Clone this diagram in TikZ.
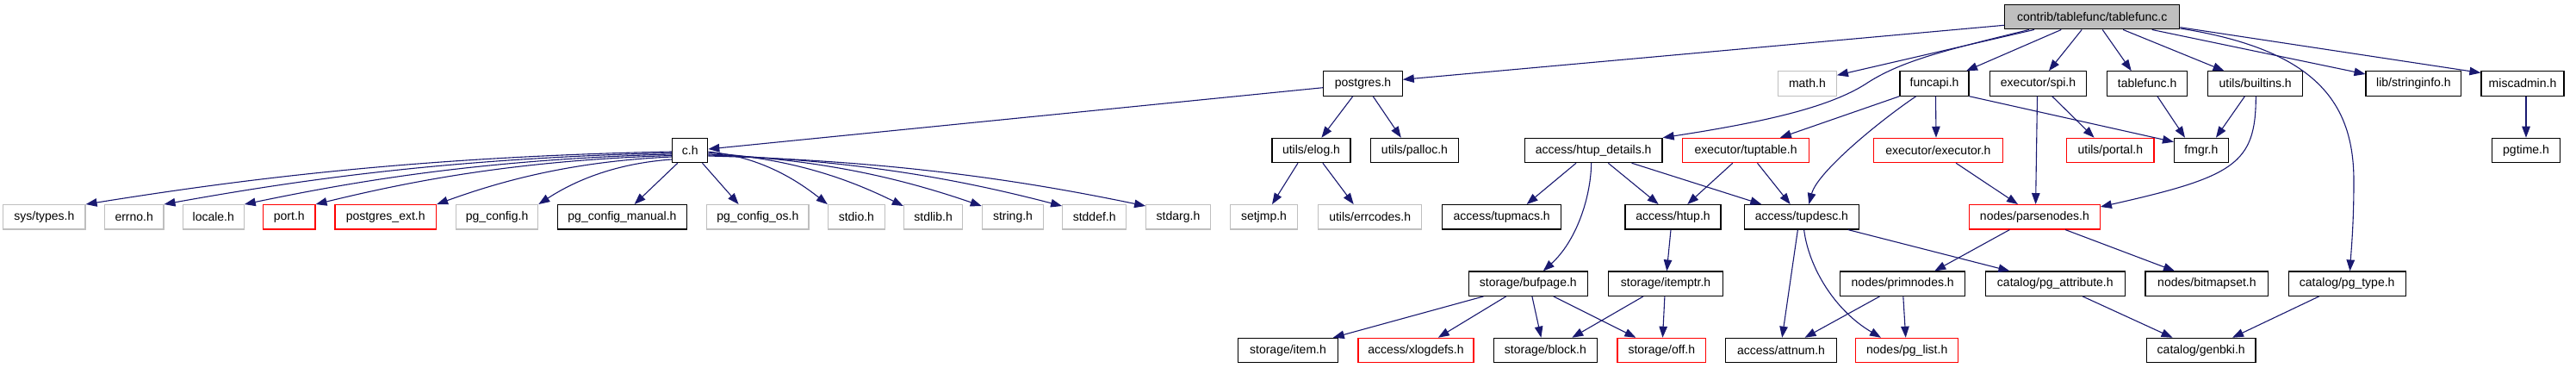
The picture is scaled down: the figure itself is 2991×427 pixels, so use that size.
\documentclass[tikz,border=0pt]{standalone}
\usepackage{fontspec}
\setmainfont{Liberation Sans}
\usetikzlibrary{arrows.meta}
\definecolor{edgec}{HTML}{191970}
\definecolor{sysgray}{HTML}{BFBFBF}
\tikzset{
  box/.style={draw=black, fill=white, line width=1.2pt, minimum height=28.3pt, inner sep=0pt, font=\fontsize{14}{16}\selectfont},
  sysbox/.style={box, draw=sysgray},
  redbox/.style={box, draw=red},
  rootbox/.style={box, fill=sysgray},
  dep/.style={draw=edgec, line width=1.1pt, -{Triangle[length=13pt,width=9.5pt]}}
}
\begin{document}
\begin{tikzpicture}[x=1pt,y=-1pt]
\useasboundingbox (0,0) rectangle (2991,427);
% row 1
\node[rootbox, minimum width=203.1pt] (tf) at (2429.2,19.7) {contrib/tablefunc/tablefunc.c};
% row 2
\node[box, minimum width=91.4pt] (postgres) at (1582.5,97) {postgres.h};
\node[sysbox, minimum width=67.9pt] (math) at (2098.4,97) {math.h};
\node[box, minimum width=80pt] (funcapi) at (2246,97) {funcapi.h};
\node[box, minimum width=112.1pt] (spi) at (2366.5,97) {executor/spi.h};
\node[box, minimum width=93.4pt] (tfh) at (2493.1,97) {tablefunc.h};
\node[box, minimum width=109.7pt] (builtins) at (2618.7,97) {utils/builtins.h};
\node[box, minimum width=110.7pt] (stringinfo) at (2802.4,97) {lib/stringinfo.h};
\node[box, minimum width=96pt] (miscadmin) at (2929,97) {miscadmin.h};
% row 3
\node[box, minimum width=41.1pt] (ch) at (801.2,174.5) {c.h};
\node[box, minimum width=90.9pt] (elog) at (1522.5,174.5) {utils/elog.h};
\node[box, minimum width=101.4pt] (palloc) at (1642.5,174.5) {utils/palloc.h};
\node[box, minimum width=159.7pt] (htupd) at (1850.2,174.5) {access/htup\_details.h};
\node[redbox, minimum width=147.4pt] (tuptable) at (2027.1,174.5) {executor/tuptable.h};
\node[redbox, minimum width=149.9pt] (executor) at (2250.4,174.5) {executor/executor.h};
\node[redbox, minimum width=101.5pt] (portal) at (2450.3,174.5) {utils/portal.h};
\node[box, minimum width=62.7pt] (fmgr) at (2555.9,174.5) {fmgr.h};
\node[box, minimum width=78.5pt] (pgtime) at (2933,174.5) {pgtime.h};
% row 4
\node[sysbox, minimum width=95.2pt] (systypes) at (51.4,251.8) {sys/types.h};
\node[sysbox, minimum width=68.4pt] (errno) at (155.7,251.8) {errno.h};
\node[sysbox, minimum width=70.8pt] (locale) at (247.8,251.8) {locale.h};
\node[redbox, minimum width=60.3pt] (port) at (335.8,251.8) {port.h};
\node[redbox, minimum width=117.6pt] (pgext) at (447.7,251.8) {postgres\_ext.h};
\node[sysbox, minimum width=95.2pt] (pgconfig) at (577.1,251.8) {pg\_config.h};
\node[box, minimum width=150.6pt] (pgcm) at (722.5,251.8) {pg\_config\_manual.h};
\node[sysbox, minimum width=118.1pt] (pgcos) at (879.9,251.8) {pg\_config\_os.h};
\node[sysbox, minimum width=66pt] (stdio) at (994.4,251.8) {stdio.h};
\node[sysbox, minimum width=68.4pt] (stdlib) at (1083.6,251.8) {stdlib.h};
\node[sysbox, minimum width=71.3pt] (strh) at (1176,251.8) {string.h};
\node[sysbox, minimum width=74.1pt] (stddef) at (1270.7,251.8) {stddef.h};
\node[sysbox, minimum width=74.6pt] (stdarg) at (1368,251.8) {stdarg.h};
\node[sysbox, minimum width=78.4pt] (setjmp) at (1467.5,251.8) {setjmp.h};
\node[sysbox, minimum width=120.1pt] (errcodes) at (1590.7,251.8) {utils/errcodes.h};
\node[box, minimum width=138.2pt] (tupmacs) at (1743.7,251.8) {access/tupmacs.h};
\node[box, minimum width=111pt] (htup) at (1942.5,251.8) {access/htup.h};
\node[box, minimum width=133.4pt] (tupdesc) at (2091.9,251.8) {access/tupdesc.h};
\node[redbox, minimum width=151.8pt] (parsenodes) at (2362.4,251.8) {nodes/parsenodes.h};
% row 5
\node[box, minimum width=138.2pt] (bufpage) at (1774.3,329.2) {storage/bufpage.h};
\node[box, minimum width=133.4pt] (itemptr) at (1934.1,329.2) {storage/itemptr.h};
\node[box, minimum width=145.1pt] (primnodes) at (2209.2,329.2) {nodes/primnodes.h};
\node[box, minimum width=162.4pt] (pgattr) at (2386.3,329.2) {catalog/pg\_attribute.h};
\node[box, minimum width=142.7pt] (bitmapset) at (2562.4,329.2) {nodes/bitmapset.h};
\node[box, minimum width=136pt] (pgtype) at (2725.2,329.2) {catalog/pg\_type.h};
% row 6
\node[box, minimum width=116.3pt] (item) at (1495.5,406.5) {storage/item.h};
\node[redbox, minimum width=134pt] (xlogdefs) at (1644,406.5) {access/xlogdefs.h};
\node[box, minimum width=120pt] (block) at (1794.4,406.5) {storage/block.h};
\node[redbox, minimum width=102.8pt] (off) at (1929.3,406.5) {storage/off.h};
\node[box, minimum width=128.6pt] (attnum) at (2068,406.5) {access/attnum.h};
\node[redbox, minimum width=118.7pt] (pglist) at (2214.2,406.5) {nodes/pg\_list.h};
\node[box, minimum width=126.5pt] (genbki) at (2555.7,406.5) {catalog/genbki.h};

% edges from tablefunc.c
\draw[dep] (tf.west |- 0,29.3) -- (postgres.east |- 0,92.3);
\draw[dep] (tf.south -| 2362,0) -- (math.east |- 0,87.3);
\draw[dep] (tf.south -| 2356,0) .. controls (2260,58) and (2210,70) .. (2170,95) .. controls (2130,122) and (2060,140) .. (htupd.north east);
\draw[dep] (tf.south -| 2393.3,0) -- (funcapi.north -| 2283,0);
\draw[dep] (tf.south -| 2417.2,0) -- (spi.north -| 2378.9,0);
\draw[dep] (tf.south -| 2441.2,0) -- (tfh.north -| 2474.7,0);
\draw[dep] (tf.south -| 2465.1,0) -- (builtins.north -| 2582.5,0);
\draw[dep] (tf.south -| 2498.6,0) -- (stringinfo.west |- 0,86);
\draw[dep] (tf.east |- 0,31.7) -- (miscadmin.west |- 0,84.5);
\draw[dep] (tf.east |- 0,33) .. controls (2690,58) and (2733,120) .. (2733,210) .. controls (2733,260) and (2730,290) .. (pgtype.north -| 2728.5,0);
% postgres.h
\draw[dep] (postgres.west |- 0,101.7) -- (ch.east |- 0,173);
\draw[dep] (postgres.south -| 1570.8,0) -- (elog.north -| 1534.4,0);
\draw[dep] (postgres.south -| 1594.2,0) -- (palloc.north -| 1626.8,0);
% utils/elog.h
\draw[dep] (elog.south -| 1507,0) -- (setjmp.north -| 1477,0);
\draw[dep] (elog.south -| 1535.9,0) -- (errcodes.north -| 1571.7,0);
% c.h
\draw[dep] (ch.west |- 0,176) .. controls (473.9,182.2) and (269.4,209.9) .. (systypes.north east);
\draw[dep] (ch.west |- 0,177.5) .. controls (514.8,183.5) and (337.6,210.6) .. (errno.north east);
\draw[dep] (ch.west |- 0,179) .. controls (556.8,184.9) and (407.5,211.3) .. (locale.north east);
\draw[dep] (ch.west |- 0,180.5) .. controls (594,186.2) and (469.6,212) .. (port.north east);
\draw[dep] (ch.west |- 0,182) .. controls (657.2,187.6) and (575,212.6) .. (pgext.north east);
\draw[dep] (ch.west |- 0,185) .. controls (710.4,189.9) and (663.7,212) .. (pgconfig.north east);
\draw[dep] (ch.south -| 786.8,0) -- (pgcm.north -| 736.6,0);
\draw[dep] (ch.south -| 815.5,0) -- (pgcos.north -| 857.6,0);
\draw[dep] (ch.east |- 0,176) .. controls (884.4,182.2) and (926.2,209.9) .. (stdio.north west);
\draw[dep] (ch.east |- 0,177.5) .. controls (924.2,183.7) and (992.5,211.3) .. (stdlib.west |- 0,239);
\draw[dep] (ch.east |- 0,179) .. controls (965.1,185) and (1060.7,212) .. (strh.west |- 0,239);
\draw[dep] (ch.east |- 0,180) .. controls (1007,185.9) and (1130.6,212.5) .. (stddef.west |- 0,239);
\draw[dep] (ch.east |- 0,181) .. controls (1050.8,186.8) and (1203.5,212.9) .. (stdarg.west |- 0,239);
% funcapi.h
\draw[dep] (funcapi.south west) -- (tuptable.north -| 2066.8,0);
\draw[dep] (funcapi.south -| 2224.7,0) .. controls (2180,142) and (2110,200) .. (tupdesc.north -| 2100.3,0);
\draw[dep] (funcapi.south -| 2247.5,0) -- (executor.north -| 2248,0);
\draw[dep] (funcapi.south east) -- (fmgr.west |- 0,164.7);
% executor/spi.h
\draw[dep] (spi.south -| 2382.7,0) -- (portal.north -| 2431.6,0);
\draw[dep] (spi.south -| 2365.5,0) -- (parsenodes.north -| 2363.6,0);
% tablefunc.h, builtins, miscadmin
\draw[dep] (tfh.south -| 2504.9,0) -- (fmgr.north -| 2537,0);
\draw[dep] (builtins.south -| 2606.4,0) -- (fmgr.north -| 2572.9,0);
\draw[dep] (builtins.south -| 2619.3,0) .. controls (2619.3,190) and (2595,205) .. (parsenodes.east |- 0,240);
\draw[dep] (miscadmin.south -| 2933,0) -- (pgtime.north -| 2933,0);
% executor.h
\draw[dep] (executor.south -| 2271.1,0) -- (parsenodes.north -| 2343,0);
% htup_details.h
\draw[dep] (htupd.south -| 1830,0) -- (tupmacs.north -| 1772.6,0);
\draw[dep] (htupd.south -| 1847.7,0) .. controls (1847,230) and (1830,280) .. (bufpage.north -| 1791.8,0);
\draw[dep] (htupd.south -| 1867.3,0) -- (htup.north -| 1925.7,0);
\draw[dep] (htupd.south -| 1894.6,0) -- (tupdesc.north -| 2045.3,0);
% tuptable.h
\draw[dep] (tuptable.south -| 2011.8,0) -- (htup.north -| 1959.2,0);
\draw[dep] (tuptable.south -| 2040.5,0) -- (tupdesc.north -| 2078.7,0);
% htup.h
\draw[dep] (htup.south -| 1940,0) -- (itemptr.north -| 1935.3,0);
% tupdesc.h
\draw[dep] (tupdesc.south -| 2087.4,0) -- (attnum.north -| 2069.2,0);
\draw[dep] (tupdesc.south -| 2094.6,0) .. controls (2100,310) and (2130,360) .. (pglist.north -| 2184,0);
\draw[dep] (tupdesc.south -| 2145.7,0) -- (pgattr.north -| 2333.4,0);
% parsenodes.h
\draw[dep] (parsenodes.south -| 2333.4,0) -- (primnodes.north -| 2246.2,0);
\draw[dep] (parsenodes.south -| 2398,0) -- (bitmapset.north -| 2525,0);
% primnodes.h
\draw[dep] (primnodes.south -| 2182.5,0) -- (attnum.north -| 2095.5,0);
\draw[dep] (primnodes.south -| 2209.8,0) -- (pglist.north -| 2212.7,0);
% catalog
\draw[dep] (pgattr.south -| 2418.2,0) -- (genbki.north -| 2522.6,0);
\draw[dep] (pgtype.south -| 2692.6,0) -- (genbki.north -| 2592,0);
% bufpage.h
\draw[dep] (bufpage.south -| 1722.4,0) -- (item.north -| 1547.8,0);
\draw[dep] (bufpage.south -| 1748.7,0) -- (xlogdefs.north -| 1669.8,0);
\draw[dep] (bufpage.south -| 1778.9,0) -- (block.north -| 1789.4,0);
\draw[dep] (bufpage.south -| 1803.7,0) -- (off.north -| 1899.4,0);
% itemptr.h
\draw[dep] (itemptr.south -| 1908,0) -- (block.north -| 1825.3,0);
\draw[dep] (itemptr.south -| 1932.9,0) -- (off.north -| 1930.5,0);
\end{tikzpicture}
\end{document}
